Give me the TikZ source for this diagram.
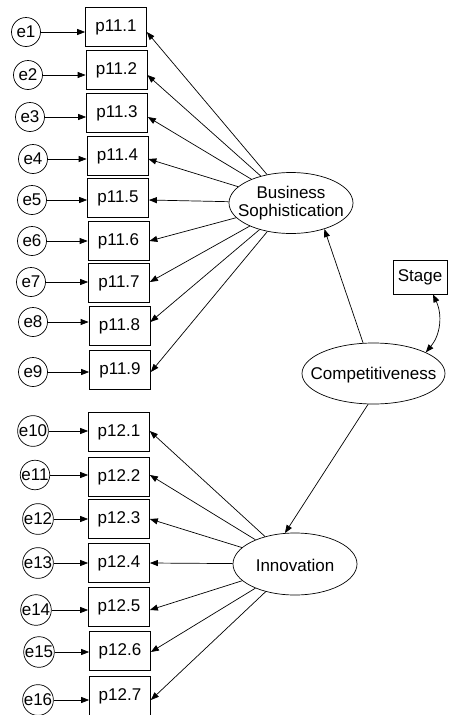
\documentclass[tikz,border=0pt]{standalone}
\usepackage{fontspec}
\setmainfont{Liberation Sans}
\usetikzlibrary{shapes.geometric,arrows.meta}
\begin{document}
\begin{tikzpicture}[x=1pt,y=-1pt,line width=0.7pt,
  font=\fontsize{17}{18.5}\selectfont,
  obs/.style={draw, rectangle, minimum width=61pt, minimum height=39pt, inner sep=0pt},
  err/.style={draw, circle, minimum size=29pt, inner sep=0pt},
  lat/.style={draw, ellipse, minimum width=124pt, minimum height=61pt, inner sep=0pt},
  tip/.style={Triangle[length=8pt,width=6pt]},
  arr/.style={-{Triangle[length=8pt,width=6pt]}}]
\useasboundingbox (0,0) rectangle (448,715);

% latent variables
\node[lat] (BS) at (291,203) {};
\node[align=center] (BSt) at (291,203) {Business\\Sophistication};
\node[lat, minimum width=143pt, minimum height=61pt] (Comp) at (373.5,373.5) {};
\node (Compt) at (373.5,375) {Competitiveness};
\node[lat, minimum height=62pt] (Inn) at (295,564) {};
\node (Innt) at (295,565) {Innovation};
\node[draw, rectangle, minimum width=54pt, minimum height=34pt, inner sep=0pt] (Stage) at (420,277) {Stage};

% business sophistication indicators
\foreach \i/\bx/\by/\ex/\ey in {1/116/27/26/32, 2/116.5/70/28/75, 3/117/113/30/117,
    4/117.5/156/33/159, 5/118/198/32/200, 6/118.5/241/32/241, 7/119/283/31/282,
    8/119.5/326/33/322, 9/120/370/33/372}{
  \node[obs] (p11\i) at (\bx,\by) {p11.\i};
  \node[err] (ea\i) at (\ex,\ey) {e\i};
  \draw[arr] (ea\i) -- (ea\i -| p11\i.west);
  \draw[arr] (BS) -- (ea\i -| p11\i.east);
}

% innovation indicators
\foreach \i/\bx/\by/\ex/\ey/\n in {1/119/432/33/431/10, 2/119/477/35/475/11, 3/119/519/38/519/12,
    4/119/563/38/563/13, 5/119/607/36/610/14, 6/120/651/39/652/15, 7/120/696/38/700/16}{
  \node[obs] (p12\i) at (\bx,\by) {p12.\i};
  \node[err] (eb\i) at (\ex,\ey) {e\n};
  \draw[arr] (eb\i) -- (eb\i -| p12\i.west);
  \draw[arr] (Inn) -- (eb\i -| p12\i.east);
}

% structural paths
\draw[arr] (Comp) -- (BS.-38);
\draw[arr] (Comp.-100) -- (Inn.108);
\draw[{Triangle[length=8pt,width=6pt]}-{Triangle[length=8pt,width=6pt]}]
  ([xshift=13pt]Stage.south) to[out=-65,in=50] (Comp.22);
\end{tikzpicture}
\end{document}
